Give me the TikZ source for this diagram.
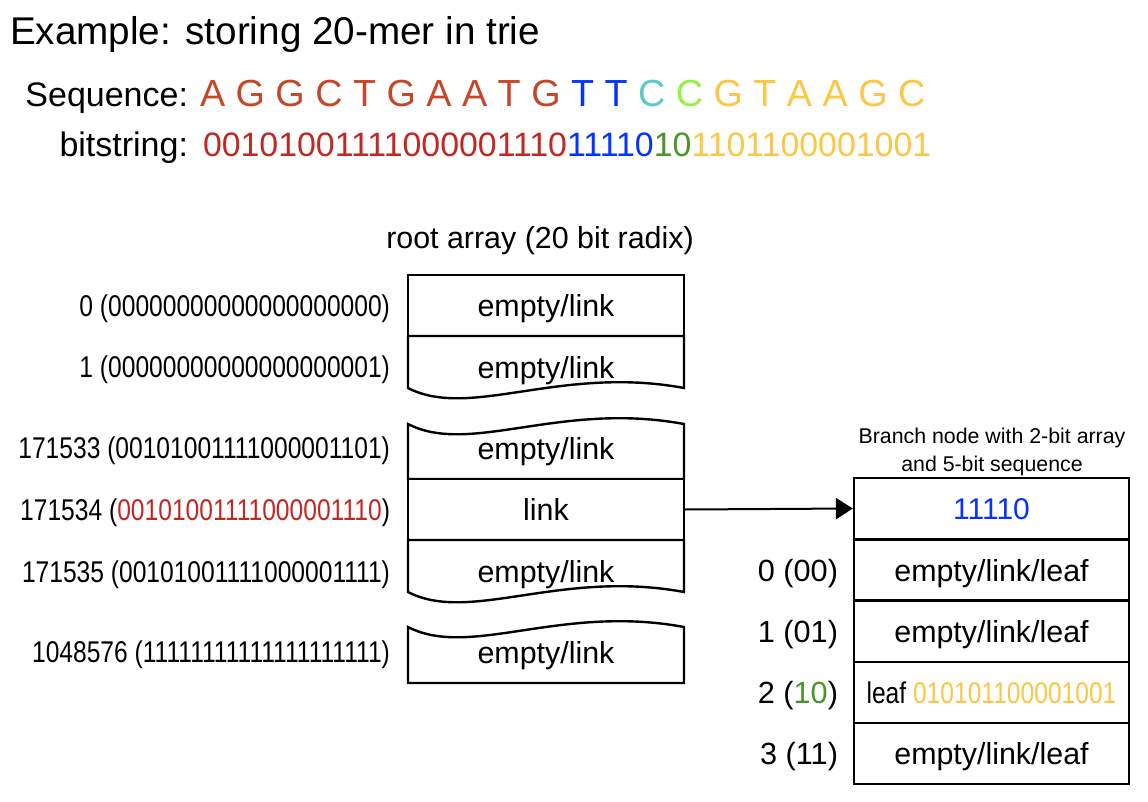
\documentclass[tikz,border=0pt]{standalone}
\usepackage{fontspec}
\setmainfont{Liberation Sans}
\newfontfamily\narrowfont[FakeStretch=0.82]{Liberation Sans}
\usetikzlibrary{arrows.meta}
\definecolor{seqred}{RGB}{196,72,40}
\definecolor{bitred}{RGB}{192,40,36}
\definecolor{seqblue}{RGB}{4,51,255}
\definecolor{seqcyan}{RGB}{92,200,200}
\definecolor{seqlime}{RGB}{150,240,70}
\definecolor{seqyellow}{RGB}{250,200,70}
\definecolor{bitgreen}{RGB}{72,150,40}
\tikzset{
  x=0.75pt, y=-0.75pt,
  txt/.style={inner sep=0pt, outer sep=0pt},
  cell/.style={draw=black, line width=1.8pt, fill=white, inner sep=0pt,
    text height=16.5pt, text depth=0pt, font=\fontsize{22.8pt}{26pt}\selectfont},
  rootcell/.style={cell, minimum width=207pt, minimum height=45.75pt},
  branchcell/.style={cell, minimum width=206.25pt, minimum height=45.75pt},
  wavecell/.style={draw=black, line width=1.8pt, fill=white, line join=miter},
  celltext/.style={txt, text height=16.5pt, text depth=0pt, font=\fontsize{22.8pt}{26pt}\selectfont},
  idx/.style={txt, anchor=east, text height=16.1pt, text depth=0pt, font=\narrowfont\fontsize{22.5pt}{26pt}\selectfont},
  bidx/.style={txt, anchor=east, text height=16.5pt, text depth=0pt, font=\fontsize{23pt}{26pt}\selectfont},
  link/.style={line width=1.5pt, -{Triangle[length=12.75pt,width=16pt]}}
}
\begin{document}
\begin{tikzpicture}
\useasboundingbox (0,0) rectangle (1148,802);

% header
\node[txt, anchor=base west, font=\fontsize{29pt}{34pt}\selectfont] (title) at (10,45) {Example: storing 20-mer in trie};
\node[txt, anchor=base east, font=\fontsize{25.5pt}{30pt}\selectfont] (seqlab) at (188,107) {Sequence:};
\node[txt, anchor=base west, font=\fontsize{28.3pt}{32pt}\selectfont] (seq) at (200,107)
  {\textcolor{seqred}{A G G C T G A A T G} \textcolor{seqblue}{T T} \textcolor{seqcyan}{C} \textcolor{seqlime}{C} \textcolor{seqyellow}{G T A A G C}};
\node[txt, anchor=base east, font=\fontsize{25.5pt}{30pt}\selectfont] (bitlab) at (188,157) {bitstring:};
\node[txt, anchor=base west, font=\fontsize{25.4pt}{30pt}\selectfont] (bits) at (203,157)
  {\textcolor{bitred}{00101001111000001110}\textcolor{seqblue}{11110}\textcolor{bitgreen}{10}\textcolor{seqyellow}{1101100001001}};

% root array
\node[txt, anchor=base, font=\fontsize{22.8pt}{26pt}\selectfont] (rootcap) at (540,248) {root array (20 bit radix)};

\node[rootcell] (r0) at (546,305.5) {empty/link};
\draw[wavecell] (408,336) -- (684,336) -- (684,388) .. controls (560,365) and (470,420) .. (408,388) -- cycle;
\node[celltext] (r1) at (546,367) {empty/link};

\draw[wavecell] (408,424) .. controls (470,456) and (560,401) .. (684,424) -- (684,479) -- (408,479) -- cycle;
\node[celltext] (r2) at (546,448) {empty/link};

\node[rootcell] (r3) at (546,509.5) {link};

\draw[wavecell] (408,540) -- (684,540) -- (684,592) .. controls (560,569) and (470,624) .. (408,592) -- cycle;
\node[celltext] (r4) at (546,571) {empty/link};

\draw[wavecell] (408,627) .. controls (470,659) and (560,604) .. (684,627) -- (684,683) -- (408,683) -- cycle;
\node[celltext] (r5) at (546,652) {empty/link};

% root indices
\node[idx] (i0) at (390,306) {0 (00000000000000000000)};
\node[idx] (i1) at (390,367) {1 (00000000000000000001)};
\node[idx] (i2) at (390,448) {171533 (00101001111000001101)};
\node[idx] (i3) at (390,510) {171534 (\textcolor{bitred}{00101001111000001110})};
\node[idx] (i4) at (390,572) {171535 (00101001111000001111)};
\node[idx] (i5) at (390,652) {1048576 (11111111111111111111)};

% branch node
\node[txt, align=center, font=\fontsize{16pt}{21pt}\selectfont] (bcap) at (992,452) {Branch node with 2-bit array\\and 5-bit sequence};
\node[branchcell, text height=16.1pt, font=\fontsize{22.5pt}{26pt}\selectfont] (b0) at (991.5,508.5) {\textcolor{seqblue}{11110}};
\node[branchcell] (b1) at (991.5,570) {empty/link/leaf};
\node[branchcell] (b2) at (991.5,631.5) {empty/link/leaf};
\node[branchcell, font=\narrowfont\fontsize{22.5pt}{26pt}\selectfont] (b3) at (991.5,692.5) {leaf \textcolor{seqyellow}{010101100001001}};
\node[branchcell] (b4) at (991.5,753.5) {empty/link/leaf};

\node[bidx] (j0) at (838,570) {0 (00)};
\node[bidx] (j1) at (838,631.5) {1 (01)};
\node[bidx] (j2) at (838,692.5) {2 (\textcolor{bitgreen}{10})};
\node[bidx] (j3) at (838,753.5) {3 (11)};

\draw[link] (r3.east) -- (b0.west);
\end{tikzpicture}
\end{document}
